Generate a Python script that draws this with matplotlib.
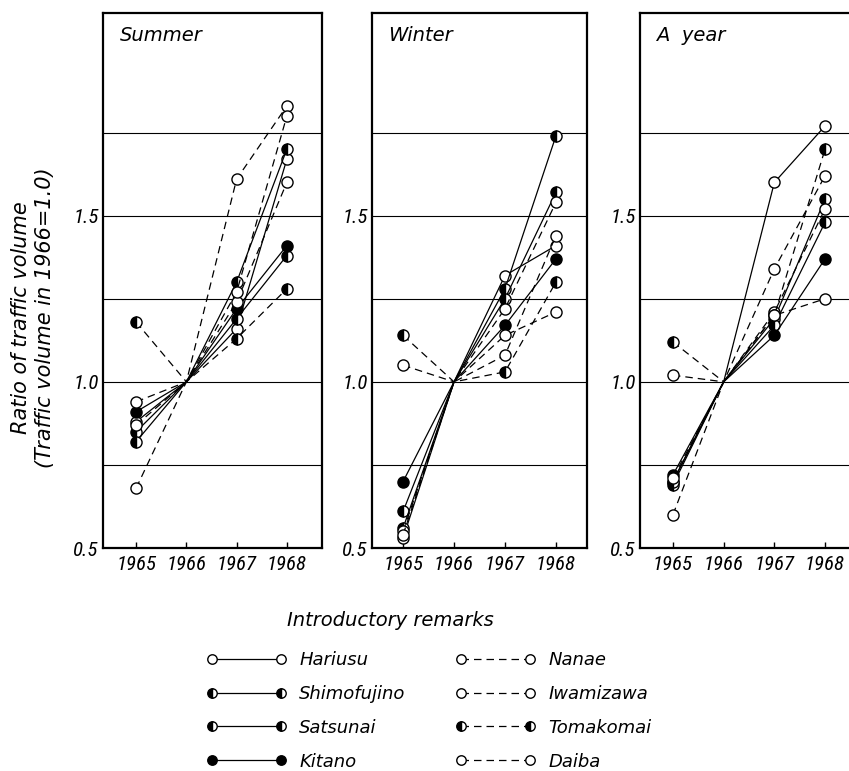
import matplotlib
matplotlib.use("Agg")
import matplotlib.pyplot as plt
from matplotlib import font_manager

# pick a narrow face for the numbers if one is there
names = {f.name for f in font_manager.fontManager.ttflist}
narrow = next((n for n in ["Liberation Sans Narrow", "DejaVu Sans Condensed", "Roboto Condensed"]
               if n in names), "DejaVu Sans")

years = [1965, 1966, 1967, 1968]
stations = ["Hariusu", "Shimofujino", "Satsunai", "Kitano",
            "Nanae", "Iwamizawa", "Tomakomai", "Daiba"]

# ratio of traffic volume (1966 = 1.0), one row per station
summer = [
    [0.88, 1.0, 1.16, 1.67],
    [0.85, 1.0, 1.30, 1.70],
    [0.82, 1.0, 1.19, 1.38],
    [0.91, 1.0, 1.22, 1.41],
    [0.68, 1.0, 1.61, 1.83],
    [0.87, 1.0, 1.24, 1.60],
    [1.18, 1.0, 1.13, 1.28],
    [0.94, 1.0, 1.27, 1.80],
]
winter = [
    [0.53, 1.0, 1.32, 1.41],
    [0.61, 1.0, 1.28, 1.74],
    [0.56, 1.0, 1.25, 1.57],
    [0.70, 1.0, 1.17, 1.37],
    [0.55, 1.0, 1.22, 1.54],
    [0.54, 1.0, 1.08, 1.44],
    [1.14, 1.0, 1.03, 1.30],
    [1.05, 1.0, 1.14, 1.21],
]
a_year = [
    [0.70, 1.0, 1.60, 1.77],
    [0.69, 1.0, 1.19, 1.55],
    [0.70, 1.0, 1.17, 1.48],
    [0.72, 1.0, 1.14, 1.37],
    [0.60, 1.0, 1.34, 1.62],
    [0.71, 1.0, 1.21, 1.52],
    [1.12, 1.0, 1.20, 1.70],
    [1.02, 1.0, 1.20, 1.25],
]
panels = [("Summer", summer), ("Winter", winter), ("A  year", a_year)]

# marker look per station: (linestyle, fillstyle, facecolor)
styles = [
    ("-", "full", "white"),
    ("-", "left", "black"),
    ("-", "left", "black"),
    ("-", "full", "black"),
    ("--", "full", "white"),
    ("--", "full", "white"),
    ("--", "left", "black"),
    ("--", "full", "white"),
]

fig = plt.figure(figsize=(8.49, 7.71), dpi=100)
W, H = 849, 771
boxes = [(103, 219, (1964.34, 1968.70)),
         (372, 215, (1964.39, 1968.61)),
         (640, 219, (1964.35, 1968.67))]
top, bottom = 13, 548

ital = dict(style="italic")
axes = []
for (title, data), (left, width, xl) in zip(panels, boxes):
    ax = fig.add_axes([left / W, 1 - bottom / H, width / W, (bottom - top) / H])
    for vals, (ls, fs, fc) in zip(data, styles):
        ax.plot(years, vals, linestyle=ls, dashes=(6, 4) if ls == "--" else (None, None),
                color="black", lw=0.9, marker="o", markersize=8, fillstyle=fs,
                markerfacecolor=fc, markerfacecoloralt="white",
                markeredgecolor="black", markeredgewidth=1.0, zorder=3)
    ax.set_xlim(*xl)
    ax.set_ylim(0.5, 2.11)
    ax.set_xticks(years)
    ax.set_xticklabels([str(y) for y in years], fontsize=15, family=narrow, **ital)
    ax.set_yticks([0.5, 1.0, 1.5])
    ax.set_yticks([0.75, 1.25, 1.75], minor=True)
    ax.set_yticklabels(["0.5", "1.0", "1.5"], fontsize=15, family=narrow, **ital)
    ax.tick_params(axis="x", direction="in", length=4, width=1, pad=5)
    ax.tick_params(axis="y", which="both", length=0, pad=3)
    ax.yaxis.grid(True, which="both", color="black", lw=0.8)
    ax.set_axisbelow(True)
    for s in ax.spines.values():
        s.set_linewidth(1.6)
    ax.text(0.075, 0.975, title, transform=ax.transAxes, fontsize=14,
            ha="left", va="top", **ital)
    axes.append(ax)

fig.text(33.5 / W, 1 - 318 / H, "Ratio of traffic volume\n(Traffic volume in 1966=1.0)",
         rotation=90, ha="center", va="center", multialignment="center",
         fontsize=15, linespacing=1.25, **ital)

fig.text(390 / W, 1 - 620 / H, "Introductory remarks", ha="center", va="center",
         fontsize=14, **ital)

handles = axes[0].get_lines()
leg = fig.legend(handles, stations, loc="upper left",
                 bbox_to_anchor=(207 / W, 1 - 651 / H), ncol=2, numpoints=2,
                 frameon=False, borderpad=0, borderaxespad=0, handlelength=4.4,
                 handletextpad=0.7, columnspacing=2.8, labelspacing=0.88,
                 markerscale=0.85, prop=dict(size=13, style="italic"))

# the base year 1966 carries no marker: the lines just meet there
for ax in axes:
    for line in ax.get_lines():
        line.set_markevery([0, 2, 3])

fig.savefig("out.png", dpi=100)
